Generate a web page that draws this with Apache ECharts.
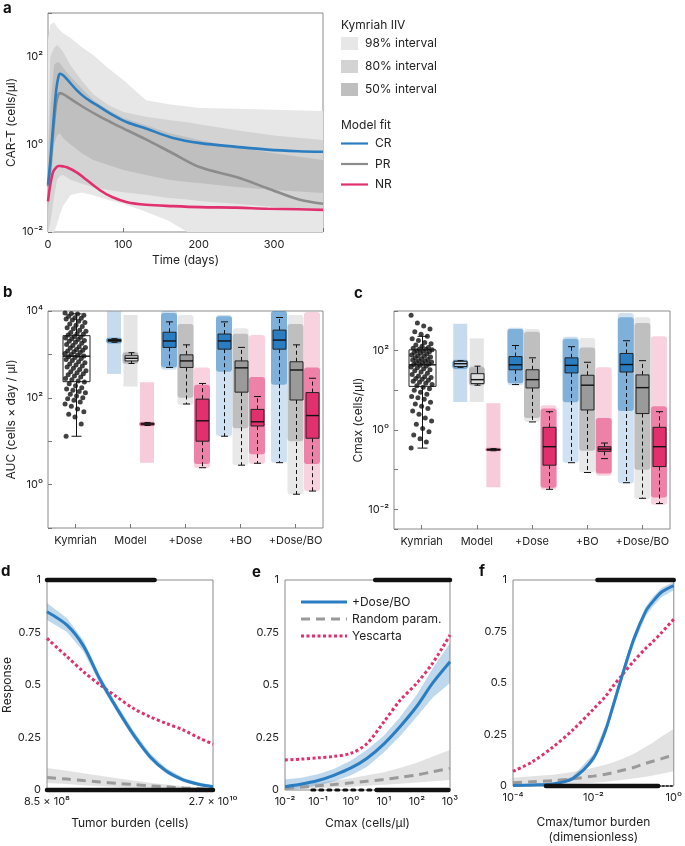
<!DOCTYPE html>
<html>
<head>
<meta charset="utf-8">
<title>CAR-T model</title>
<script src="https://cdn.jsdelivr.net/npm/echarts@6.0.0/dist/echarts.min.js"></script>
<style>
  html, body { margin: 0; padding: 0; background: #fff; }
  #main { width: 685px; height: 846px; }
</style>
</head>
<body>
<div id="main"></div>
<script>
var FONT = 'Inter, "Noto Sans", sans-serif';
var BLUE = '#2a7dc1', GREY = '#8c8c8c', PINK = '#e2306f';

// ---- a: CAR-T over time
var aLineTime = [0, 3, 7, 11, 14, 16, 20, 25, 38, 50, 69, 85, 105, 130, 166, 202, 250, 291, 332, 365];
var aCR = [0.12, 0.4, 3, 18, 36, 41, 38, 31, 17.4, 11.5, 7.1, 4.8, 3.2, 2.3, 1.4, 1.07, 0.88, 0.76, 0.7, 0.68];
var aPR = [0.11, 0.3, 2, 9, 14, 14.8, 14, 12.5, 8.9, 6.6, 4.3, 3.1, 2.1, 1.3, 0.62, 0.3, 0.18, 0.1, 0.056, 0.044];
var aNR = [0.05, 0.12, 0.24, 0.3, 0.32, 0.32, 0.315, 0.3, 0.23, 0.16, 0.09, 0.063, 0.048, 0.042, 0.039, 0.037, 0.036, 0.034, 0.033, 0.032];
var aBandTime = [0, 3, 8, 12, 16, 20, 30, 45, 60, 80, 100, 130, 160, 185, 200, 250, 300, 365];
var a98Hi = [240, 537, 617, 479, 400, 347, 269, 166, 110, 55, 29.5, 10.2, 8.3, 7.3, 6.8, 6.5, 6.2, 5.8];
var a98Lo = [0.01, 0.01, 0.01, 0.015, 0.026, 0.04, 0.07, 0.08, 0.069, 0.054, 0.044, 0.029, 0.018, 0.01, 0.01, 0.01, 0.01, 0.01];
var a80Hi = [1.0, 100, 158, 186, 158, 129, 63, 28, 14, 7.9, 5.5, 4.3, 3.6, 3.2, 2.9, 2.1, 1.6, 1.26];
var a80Lo = [0.01, 0.016, 0.063, 0.155, 0.19, 0.2, 0.155, 0.126, 0.107, 0.091, 0.081, 0.071, 0.06, 0.055, 0.051, 0.044, 0.037, 0.032];
var a50Hi = [0.32, 6.3, 65, 76, 71, 56, 35, 19, 10.2, 6.2, 4.0, 2.75, 1.82, 1.45, 1.26, 0.87, 0.63, 0.44];
var a50Lo = [0.032, 0.1, 1.0, 1.6, 1.8, 1.4, 1.0, 0.63, 0.44, 0.34, 0.26, 0.2, 0.155, 0.138, 0.132, 0.107, 0.091, 0.078];

// ---- b, c: box plots ([whisker low, q1, median, q3, whisker high])
var groups = ['Kymriah', 'Model', '+Dose', '+BO', '+Dose/BO'];
var aucKymBox = [13, 235, 910, 2700, 8600];
var aucKymPts = [9000, 8800, 8500, 8000, 7600, 7000, 6800, 6500, 6200, 5800, 5400, 5000, 4700, 4400, 4100, 3900, 3600, 3400, 3200, 3000,
  2900, 2800, 2600, 2500, 2400, 2300, 2200, 2100, 2000, 1900, 1800, 1700, 1600, 1500, 1450, 1400, 1300, 1250, 1200, 1150,
  1100, 1050, 1000, 950, 920, 880, 850, 800, 760, 720, 680, 640, 600, 570, 540, 510, 480, 450, 420, 400,
  380, 360, 340, 320, 300, 280, 260, 245, 230, 210, 190, 170, 160, 150, 140, 130, 120, 110, 100, 95,
  88, 80, 72, 64, 55, 48, 42, 36, 25, 13];
// order: Model, +Dose, +BO, +Dose/BO
var aucBoxCR = [[1900, 2000, 2100, 2200, 2300], [500, 1450, 2040, 3240, 5620], [13, 1320, 2040, 2950, 5620], [3.2, 1320, 2140, 3630, 7080]];
var aucBoxPR = [[617, 708, 813, 933, 1096], [72, 500, 708, 977, 1660], [2.8, 135, 490, 708, 1450], [0.6, 89, 437, 676, 1660]];
var aucBoxNR = [[23, 24, 25, 26, 27], [2.45, 10, 29.5, 93, 214], [3.1, 22.4, 28, 54, 107], [0.71, 11.7, 39, 132, 282]];
// point clouds: [min, dense low, dense high, max]
var aucCloudCR = [[1750, 1800, 2400, 2500], [440, 500, 9000, 10000], [13, 400, 7600, 8100], [3.2, 200, 10000, 10000]];
var aucCloudPR = [[600, 620, 1100, 1150], [68, 100, 5000, 8100], [2.8, 20, 3000, 4000], [0.6, 10, 5000, 8100]];
var aucCloudNR = [[22, 22.5, 27.5, 28], [2.4, 3, 200, 500], [3, 5, 300, 2800], [0.7, 3, 500, 9500]];
var aucModelRange = [[355, 9800], [182, 8100], [3.2, 229]];

var cmaxKymBox = [0.35, 12.6, 44, 105, 230];
var cmaxKymPts = [780, 500, 420, 350, 300, 260, 230, 200, 180, 160, 150, 140, 130, 120, 115, 110, 108, 106, 100, 97,
  94, 90, 86, 82, 78, 75, 72, 69, 66, 63, 60, 58, 56, 54, 52, 50, 48, 46, 45, 43,
  41, 39, 37, 35, 33, 31, 29, 27, 25, 23, 22, 21, 20, 19, 18, 17, 16, 15, 14, 13,
  12, 11, 10, 9, 8, 7, 6.5, 6, 5, 4.5, 4, 3.5, 3, 2.5, 2, 1.7, 1.4, 1.1, 0.9, 0.75,
  0.6, 0.5, 0.35];
var cmaxBoxCR = [[38, 40, 47, 54, 56], [14, 33, 44, 71, 135], [0.15, 27.5, 42.7, 66, 126], [0.047, 29, 44.7, 85, 178]];
var cmaxBoxPR = [[13.5, 14.8, 18.6, 26.3, 40.7], [1.6, 11.5, 18.6, 33, 66], [0.085, 3.2, 13.5, 24, 51], [0.019, 2.6, 11.7, 24.5, 56]];
var cmaxBoxNR = [[0.3, 0.31, 0.32, 0.33, 0.34], [0.032, 0.13, 0.38, 1.17, 2.9], [0.19, 0.29, 0.33, 0.38, 0.47], [0.014, 0.12, 0.38, 1.17, 2.9]];
var cmaxCloudCR = [[34, 35, 58, 60], [13.5, 15, 350, 380], [0.15, 5, 200, 224], [0.045, 3, 700, 890]];
var cmaxCloudPR = [[13, 13.5, 38, 41], [1.6, 2, 300, 350], [0.085, 0.3, 120, 210], [0.018, 0.1, 500, 700]];
var cmaxCloudNR = [[0.29, 0.3, 0.34, 0.36], [0.031, 0.035, 3.5, 4.2], [0.07, 0.08, 2.0, 38], [0.013, 0.02, 4, 230]];
var cmaxModelRange = [[5.1, 479], [5.1, 204], [0.036, 4.7]];

// ---- d: response vs tumor burden
var dX = [8.5e8, 1.29e9, 1.82e9, 2.57e9, 3.63e9, 5.13e9, 7.24e9, 1.02e10, 1.45e10, 2.05e10, 2.7e10];
var dFit = [0.849, 0.785, 0.685, 0.525, 0.39, 0.265, 0.16, 0.09, 0.048, 0.026, 0.016];
var dFitLo = [0.81, 0.752, 0.658, 0.505, 0.371, 0.247, 0.144, 0.077, 0.038, 0.018, 0.009];
var dFitHi = [0.89, 0.818, 0.712, 0.545, 0.409, 0.283, 0.176, 0.103, 0.058, 0.034, 0.024];
var dYes = [0.722, 0.635, 0.563, 0.5, 0.444, 0.389, 0.349, 0.317, 0.286, 0.246, 0.219];
var dRand = [0.059, 0.052, 0.045, 0.038, 0.032, 0.026, 0.02, 0.015, 0.01, 0.006, 0.003];
var dRandLo = [0.033, 0.028, 0.023, 0.018, 0.014, 0.01, 0.007, 0.005, 0.003, 0.001, 0];
var dRandHi = [0.105, 0.092, 0.08, 0.068, 0.056, 0.045, 0.035, 0.026, 0.018, 0.011, 0.006];
var dRugTop = [8.5e8, 8.0e9];
var dRugBottom = [8.5e8, 2.7e10];

// ---- e: response vs Cmax
var eX = [0.01, 0.03, 0.1, 0.3, 1, 3, 10, 30, 100, 300, 1000];
var eFit = [0.016, 0.027, 0.045, 0.07, 0.105, 0.15, 0.22, 0.3, 0.4, 0.51, 0.611];
var eFitLo = [0, 0.008, 0.022, 0.04, 0.07, 0.11, 0.18, 0.255, 0.35, 0.44, 0.51];
var eFitHi = [0.05, 0.058, 0.075, 0.1, 0.14, 0.19, 0.26, 0.345, 0.455, 0.58, 0.7];
var eYes = [0.143, 0.147, 0.153, 0.16, 0.175, 0.22, 0.325, 0.425, 0.51, 0.605, 0.738];
var eRand = [0.008, 0.013, 0.02, 0.026, 0.034, 0.042, 0.05, 0.06, 0.072, 0.087, 0.103];
var eRandLo = [0, 0.004, 0.008, 0.012, 0.016, 0.02, 0.025, 0.03, 0.036, 0.042, 0.048];
var eRandHi = [0.02, 0.027, 0.035, 0.045, 0.056, 0.07, 0.085, 0.105, 0.13, 0.16, 0.19];
var eRugTop = [5.4, 1000];
var eRugBottom = [6, 900];
var eRugBottomSparse = [0.065, 6];

// ---- f: response vs Cmax/tumor burden
var fX = [1e-4, 3e-4, 1e-3, 3e-3, 1e-2, 2e-2, 3e-2, 5e-2, 0.1, 0.2, 0.3, 0.5, 1];
var fFit = [0.003, 0.005, 0.01, 0.035, 0.135, 0.27, 0.38, 0.525, 0.71, 0.848, 0.895, 0.942, 0.973];
var fFitLo = [0, 0.001, 0.004, 0.025, 0.115, 0.245, 0.355, 0.5, 0.685, 0.825, 0.87, 0.918, 0.95];
var fFitHi = [0.006, 0.009, 0.016, 0.045, 0.155, 0.295, 0.405, 0.55, 0.735, 0.87, 0.918, 0.962, 0.99];
var fYes = [0.071, 0.117, 0.19, 0.27, 0.373, 0.435, 0.482, 0.535, 0.605, 0.668, 0.7, 0.745, 0.81];
var fRand = [0.016, 0.021, 0.026, 0.035, 0.048, 0.057, 0.064, 0.075, 0.09, 0.11, 0.12, 0.133, 0.151];
var fRandLo = [0, 0.003, 0.006, 0.01, 0.016, 0.02, 0.024, 0.029, 0.036, 0.045, 0.051, 0.06, 0.071];
var fRandHi = [0.04, 0.047, 0.055, 0.068, 0.088, 0.103, 0.114, 0.13, 0.155, 0.19, 0.21, 0.24, 0.278];
var fRugTop = [0.0126, 1];
var fRugBottom = [6.6e-4, 0.41];
var fRugBottomSparse = [0.41, 1];

// ---------------------------------------------------------------
var SUP = { '-': '\u207b', '0': '\u2070', '1': '\u00b9', '2': '\u00b2', '3': '\u00b3', '4': '\u2074',
  '5': '\u2075', '6': '\u2076', '7': '\u2077', '8': '\u2078', '9': '\u2079' };
function sup(n) { return String(n).split('').map(function (c) { return SUP[c]; }).join(''); }
function logLabel(step) {
  return function (v) {
    var e = Math.log10(v), r = Math.round(e);
    if (Math.abs(e - r) > 1e-6 || r % step !== 0) return '';
    return '10' + sup(r);
  };
}
function pairs(xs, ys) { return xs.map(function (x, i) { return [x, ys[i]]; }); }
function jit(i) { return ((i * 53) % 41 / 40 - 0.5) * 0.38; }

function bandSeries(xi, yi, xs, lo, hi, color, z) {
  return {
    type: 'custom', xAxisIndex: xi, yAxisIndex: yi, z: z, silent: true, clip: true,
    data: [[xs[0], hi[0]]],
    renderItem: function (params, api) {
      var pts = [], i;
      for (i = 0; i < xs.length; i++) pts.push(api.coord([xs[i], hi[i]]));
      for (i = xs.length - 1; i >= 0; i--) pts.push(api.coord([xs[i], lo[i]]));
      return { type: 'polygon', shape: { points: pts }, style: { fill: color } };
    }
  };
}

function boxSeries(xi, yi, items, opt) {
  return {
    type: 'custom', xAxisIndex: xi, yAxisIndex: yi, z: opt.z || 4, silent: true,
    encode: { x: 0, y: [1, 2, 3, 4, 5] },
    data: items,
    renderItem: function (params, api) {
      var x = api.value(0);
      var lo = api.coord([x, api.value(1)]), q1 = api.coord([x, api.value(2)]),
        md = api.coord([x, api.value(3)]), q3 = api.coord([x, api.value(4)]),
        hi = api.coord([x, api.value(5)]);
      var cx = Math.round(lo[0]) + 0.5, w = opt.width, c = opt.cap / 2;
      var wl = { stroke: '#111', lineWidth: 1, lineDash: opt.dash || null };
      var cl = { stroke: '#111', lineWidth: 1 };
      return {
        type: 'group', children: [
          { type: 'line', shape: { x1: cx, y1: q1[1], x2: cx, y2: lo[1] }, style: wl },
          { type: 'line', shape: { x1: cx, y1: q3[1], x2: cx, y2: hi[1] }, style: wl },
          { type: 'line', shape: { x1: cx - c, y1: lo[1], x2: cx + c, y2: lo[1] }, style: cl },
          { type: 'line', shape: { x1: cx - c, y1: hi[1], x2: cx + c, y2: hi[1] }, style: cl },
          { type: 'rect', shape: { x: cx - w / 2, y: q3[1], width: w, height: Math.max(q1[1] - q3[1], 1) },
            style: { fill: opt.fill, stroke: '#222', lineWidth: 1 } },
          { type: 'line', shape: { x1: cx - w / 2, y1: md[1], x2: cx + w / 2, y2: md[1] }, style: { stroke: '#111', lineWidth: 1.4 } }
        ]
      };
    }
  };
}

function cloudSeries(xi, yi, items, rgb) {
  return {
    type: 'custom', xAxisIndex: xi, yAxisIndex: yi, z: 3, silent: true, clip: true,
    encode: { x: 0, y: [1, 2, 3, 4] },
    data: items,
    renderItem: function (params, api) {
      var x = api.value(0);
      var a = api.coord([x, api.value(1)]), b = api.coord([x, api.value(2)]),
        c = api.coord([x, api.value(3)]), d = api.coord([x, api.value(4)]);
      var w = 16;
      return {
        type: 'group', children: [
          { type: 'rect', shape: { x: a[0] - w / 2, y: d[1], width: w, height: a[1] - d[1], r: 3 },
            style: { fill: 'rgba(' + rgb + ',0.22)' } },
          { type: 'rect', shape: { x: a[0] - w / 2, y: c[1], width: w, height: b[1] - c[1], r: 3 },
            style: { fill: 'rgba(' + rgb + ',0.5)' } }
        ]
      };
    }
  };
}

function rangeSeries(xi, yi, items, fills) {
  return {
    type: 'custom', xAxisIndex: xi, yAxisIndex: yi, z: 2, silent: true, clip: true,
    encode: { x: 0, y: [1, 2] },
    data: items,
    renderItem: function (params, api) {
      var x = api.value(0);
      var a = api.coord([x, api.value(1)]), b = api.coord([x, api.value(2)]);
      return { type: 'rect', shape: { x: a[0] - 7, y: b[1], width: 14, height: a[1] - b[1] },
        style: { fill: fills[params.dataIndex] } };
    }
  };
}

function rug(xi, yi, range, y, width, dash) {
  return {
    type: 'line', xAxisIndex: xi, yAxisIndex: yi, data: [[range[0], y], [range[1], y]],
    symbol: 'none', clip: false, silent: true, z: 5,
    lineStyle: { color: '#111', width: width, type: dash || 'solid', cap: 'round' }
  };
}

var series = [];

// a
series.push(bandSeries(0, 0, aBandTime, a98Lo, a98Hi, '#e7e7e7', 1));
series.push(bandSeries(0, 0, aBandTime, a80Lo, a80Hi, '#d3d3d3', 1));
series.push(bandSeries(0, 0, aBandTime, a50Lo, a50Hi, '#bfbfbf', 1));
[[aPR, GREY], [aNR, PINK], [aCR, BLUE]].forEach(function (s) {
  series.push({
    type: 'line', xAxisIndex: 0, yAxisIndex: 0, data: pairs(aLineTime, s[0]), symbol: 'none',
    smooth: 0.35, silent: true, z: 3, lineStyle: { color: s[1], width: 2.6 }
  });
});

// b and c
var OFF = [-0.3, 0, 0.3];
function boxPanel(xi, yi, kymBox, kymPts, boxes, clouds, ranges) {
  var rgbs = ['43,125,193', '150,150,150', '226,48,111'];
  var fills = [BLUE, '#9a9a9a', PINK];
  var rangeFill = ['rgba(43,125,193,0.27)', 'rgba(170,170,170,0.3)', 'rgba(226,48,111,0.25)'];
  series.push(rangeSeries(xi, yi, ranges.map(function (r, k) { return [1.5 + OFF[k], r[0], r[1]]; }), rangeFill));
  [0, 1, 2].forEach(function (k) {
    series.push(cloudSeries(xi, yi, clouds[k].map(function (c, j) { return [1.5 + j + OFF[k]].concat(c); }), rgbs[k]));
    series.push(boxSeries(xi, yi, [[1.5 + OFF[k]].concat(boxes[k][0])],
      { width: 13, cap: 6, fill: 'rgba(255,255,255,0.55)' }));
    series.push(boxSeries(xi, yi, boxes[k].slice(1).map(function (b, j) { return [2.5 + j + OFF[k]].concat(b); }),
      { width: 13, cap: 7, fill: fills[k], dash: [4, 3] }));
  });
  series.push(boxSeries(xi, yi, [[0.5].concat(kymBox)], { width: 27, cap: 10, fill: '#fff' }));
  series.push({
    type: 'scatter', xAxisIndex: xi, yAxisIndex: yi, silent: true, z: 6, symbolSize: 5,
    itemStyle: { color: '#111' },
    data: kymPts.map(function (v, i) { return [0.5 + jit(i), v]; })
  });
}
boxPanel(2, 1, aucKymBox, aucKymPts, [aucBoxCR, aucBoxPR, aucBoxNR], [aucCloudCR, aucCloudPR, aucCloudNR], aucModelRange);
boxPanel(4, 2, cmaxKymBox, cmaxKymPts, [cmaxBoxCR, cmaxBoxPR, cmaxBoxNR], [cmaxCloudCR, cmaxCloudPR, cmaxCloudNR], cmaxModelRange);

// d, e, f
function respPanel(xi, yi, xs, fit, lo, hi, yes, rnd, rlo, rhi) {
  series.push(bandSeries(xi, yi, xs, rlo, rhi, 'rgba(160,160,160,0.3)', 1));
  series.push(bandSeries(xi, yi, xs, lo, hi, 'rgba(43,125,193,0.3)', 1));
  series.push({ type: 'line', xAxisIndex: xi, yAxisIndex: yi, data: pairs(xs, rnd), symbol: 'none', smooth: 0.3, silent: true, z: 3,
    lineStyle: { color: '#9a9a9a', width: 3, type: [9, 6] } });
  series.push({ type: 'line', xAxisIndex: xi, yAxisIndex: yi, data: pairs(xs, yes), symbol: 'none', smooth: 0.3, silent: true, z: 3,
    lineStyle: { color: PINK, width: 3, type: [3, 2.5] } });
  series.push({ type: 'line', xAxisIndex: xi, yAxisIndex: yi, data: pairs(xs, fit), symbol: 'none', smooth: 0.3, silent: true, z: 4,
    lineStyle: { color: BLUE, width: 3 } });
}
respPanel(5, 3, dX, dFit, dFitLo, dFitHi, dYes, dRand, dRandLo, dRandHi);
respPanel(6, 4, eX, eFit, eFitLo, eFitHi, eYes, eRand, eRandLo, eRandHi);
respPanel(7, 5, fX, fFit, fFitLo, fFitHi, fYes, fRand, fRandLo, fRandHi);
series.push(rug(5, 3, dRugTop, 1, 4.5), rug(5, 3, dRugBottom, 0, 4.5));
series.push(rug(6, 4, eRugTop, 1, 4.5), rug(6, 4, eRugBottom, 0, 4.5), rug(6, 4, eRugBottomSparse, 0, 3, [3, 5]));
series.push(rug(7, 5, fRugTop, 1, 4.5), rug(7, 5, fRugBottom, 0, 4.5), rug(7, 5, fRugBottomSparse, 0, 1.5, [2, 2]));

// ---------------------------------------------------------------
var labelStyle = { color: '#222', fontSize: 11, fontFamily: FONT };
var nameStyle = { color: '#222', fontSize: 12, fontFamily: FONT };
function gridDef(l, t, w, h) {
  return { left: l, top: t, width: w, height: h, show: true, borderColor: '#8a8a8a', borderWidth: 1, backgroundColor: 'transparent' };
}
function logY(gi, min, max, step, name, gap) {
  return {
    type: 'log', logBase: 10, gridIndex: gi, min: min, max: max,
    name: name, nameLocation: 'middle', nameGap: gap, nameTextStyle: nameStyle,
    axisLine: { show: false }, splitLine: { show: false },
    axisTick: { show: true, inside: true, length: 4, lineStyle: { color: '#777' } },
    axisLabel: Object.assign({ formatter: logLabel(step), margin: 5 }, labelStyle)
  };
}
function respY(gi, name) {
  return {
    type: 'value', gridIndex: gi, min: 0, max: 1, interval: 0.25,
    name: name, nameLocation: 'middle', nameGap: 27, nameTextStyle: nameStyle,
    axisLine: { show: false }, splitLine: { show: false }, axisTick: { show: false },
    axisLabel: Object.assign({ margin: 6 }, labelStyle)
  };
}
function logX(gi, min, max, fmt, name, gap) {
  return {
    type: 'log', logBase: 10, gridIndex: gi, min: min, max: max,
    name: name, nameLocation: 'middle', nameGap: gap, nameTextStyle: Object.assign({ lineHeight: 15 }, nameStyle),
    axisLine: { show: false }, splitLine: { show: false }, axisTick: { show: false },
    axisLabel: Object.assign({ formatter: fmt, margin: 6, interval: 0, showMinLabel: true, showMaxLabel: true }, labelStyle)
  };
}
function catX(gi) {
  return {
    type: 'category', gridIndex: gi, data: groups, boundaryGap: true,
    axisLine: { show: false }, splitLine: { show: false },
    axisTick: { show: true, inside: true, alignWithLabel: true, length: 4, lineStyle: { color: '#777' } },
    axisLabel: Object.assign({ margin: 7, interval: 0 }, labelStyle)
  };
}
function hiddenX(gi) { return { type: 'value', gridIndex: gi, min: 0, max: 5, show: false }; }

var option = {
  animation: false,
  backgroundColor: '#fff',
  textStyle: { fontFamily: FONT },
  grid: [
    gridDef(48, 13, 275, 219),
    gridDef(48, 311, 275, 217),
    gridDef(394, 311, 276, 218),
    gridDef(47, 580, 166, 210),
    gridDef(285, 580, 165, 210),
    gridDef(513, 580, 165, 210)
  ],
  xAxis: [
    {
      type: 'value', gridIndex: 0, min: 0, max: 365, interval: 100,
      name: 'Time (days)', nameLocation: 'middle', nameGap: 22, nameTextStyle: nameStyle,
      axisLine: { show: false }, splitLine: { show: false },
      axisTick: { show: true, inside: true, length: 4, lineStyle: { color: '#777' } },
      axisLabel: Object.assign({ margin: 7, formatter: function (v) { return v % 100 === 0 ? String(v) : ''; } }, labelStyle)
    },
    catX(1), hiddenX(1),
    catX(2), hiddenX(2),
    logX(3, 8.5e8, 2.7e10, function (v) {
      if (Math.abs(v - 8.5e8) < 1e6) return '8.5 \u00d7 10' + sup(8);
      if (Math.abs(v - 2.7e10) < 1e7) return '2.7 \u00d7 10' + sup(10);
      return '';
    }, 'Tumor burden (cells)', 26),
    logX(4, 0.01, 1000, logLabel(1), 'Cmax (cells/\u00b5l)', 26),
    logX(5, 1e-4, 1, logLabel(2), 'Cmax/tumor burden\n(dimensionless)', 29)
  ],
  yAxis: [
    logY(0, 0.01, 1000, 2, 'CAR-T (cells/\u00b5l)', 31),
    logY(1, 0.1, 10000, 2, 'AUC (cells \u00d7 day / \u00b5l)', 31),
    logY(2, 0.0032, 1000, 2, 'Cmax (cells/\u00b5l)', 29),
    respY(3, 'Response'),
    respY(4, ''),
    respY(5, '')
  ],
  series: series,
  graphic: [
    { type: 'text', left: 3, top: 1, style: { text: 'a', font: 'bold 15px ' + FONT, fill: '#111' } },
    { type: 'text', left: 3, top: 285, style: { text: 'b', font: 'bold 15px ' + FONT, fill: '#111' } },
    { type: 'text', left: 354, top: 286, style: { text: 'c', font: 'bold 15px ' + FONT, fill: '#111' } },
    { type: 'text', left: 1, top: 564, style: { text: 'd', font: 'bold 15px ' + FONT, fill: '#111' } },
    { type: 'text', left: 252, top: 565, style: { text: 'e', font: 'bold 15px ' + FONT, fill: '#111' } },
    { type: 'text', left: 479, top: 564, style: { text: 'f', font: 'bold 15px ' + FONT, fill: '#111' } },

    // legend a
    { type: 'text', x: 341, y: 25, style: { text: 'Kymriah IIV', font: '12px ' + FONT, fill: '#222', verticalAlign: 'middle' } },
    { type: 'rect', shape: { x: 341, y: 37, width: 17, height: 13 }, style: { fill: '#e7e7e7' } },
    { type: 'rect', shape: { x: 341, y: 60, width: 17, height: 13 }, style: { fill: '#d3d3d3' } },
    { type: 'rect', shape: { x: 341, y: 83, width: 17, height: 13 }, style: { fill: '#bfbfbf' } },
    { type: 'text', x: 365, y: 43.5, style: { text: '98% interval', font: '12px ' + FONT, fill: '#222', verticalAlign: 'middle' } },
    { type: 'text', x: 365, y: 66.5, style: { text: '80% interval', font: '12px ' + FONT, fill: '#222', verticalAlign: 'middle' } },
    { type: 'text', x: 365, y: 89.5, style: { text: '50% interval', font: '12px ' + FONT, fill: '#222', verticalAlign: 'middle' } },
    { type: 'text', x: 341, y: 125, style: { text: 'Model fit', font: '12px ' + FONT, fill: '#222', verticalAlign: 'middle' } },
    { type: 'line', shape: { x1: 341, y1: 143.5, x2: 368, y2: 143.5 }, style: { stroke: BLUE, lineWidth: 2.2 } },
    { type: 'line', shape: { x1: 341, y1: 164, x2: 368, y2: 164 }, style: { stroke: GREY, lineWidth: 2.2 } },
    { type: 'line', shape: { x1: 341, y1: 184.5, x2: 368, y2: 184.5 }, style: { stroke: PINK, lineWidth: 2.2 } },
    { type: 'text', x: 375, y: 143.5, style: { text: 'CR', font: '12px ' + FONT, fill: '#222', verticalAlign: 'middle' } },
    { type: 'text', x: 375, y: 164, style: { text: 'PR', font: '12px ' + FONT, fill: '#222', verticalAlign: 'middle' } },
    { type: 'text', x: 375, y: 184.5, style: { text: 'NR', font: '12px ' + FONT, fill: '#222', verticalAlign: 'middle' } },

    // legend e
    { type: 'line', shape: { x1: 301, y1: 602, x2: 347, y2: 602 }, style: { stroke: BLUE, lineWidth: 3 } },
    { type: 'line', shape: { x1: 301, y1: 619, x2: 347, y2: 619 }, style: { stroke: '#9a9a9a', lineWidth: 3, lineDash: [9, 6] } },
    { type: 'line', shape: { x1: 301, y1: 636, x2: 347, y2: 636 }, style: { stroke: PINK, lineWidth: 3, lineDash: [3, 2.5] } },
    { type: 'text', x: 352, y: 602, style: { text: '+Dose/BO', font: '12px ' + FONT, fill: '#222', verticalAlign: 'middle' } },
    { type: 'text', x: 352, y: 619, style: { text: 'Random param.', font: '12px ' + FONT, fill: '#222', verticalAlign: 'middle' } },
    { type: 'text', x: 352, y: 636, style: { text: 'Yescarta', font: '12px ' + FONT, fill: '#222', verticalAlign: 'middle' } }
  ]
};

var chart = echarts.init(document.getElementById('main'));
chart.setOption(option);
</script>
</body>
</html>
